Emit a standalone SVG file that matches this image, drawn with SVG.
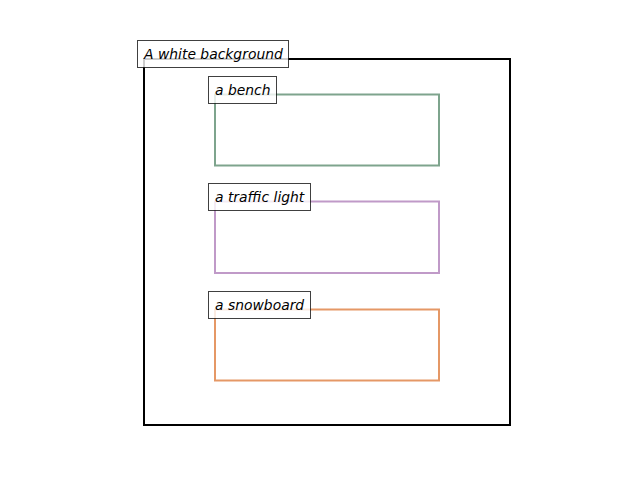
<svg xmlns="http://www.w3.org/2000/svg" width="640" height="480" viewBox="0 0 640 480">
<style>
.lbl{fill:#fff;fill-opacity:0.8;stroke:#000;stroke-opacity:0.75;stroke-width:1}
.t{font-family:"DejaVu Sans",sans-serif;font-style:oblique;font-size:13.9px;fill:#000}
.r{fill:none;stroke-width:2}
</style>
<rect width="640" height="480" fill="#fff"/>
<g id="connectors"></g>
<g id="background">
<rect class="r" x="144" y="59" width="366" height="366" stroke="#000"/>
<rect class="lbl" x="137.5" y="40.5" width="151" height="27"/>
<text class="t" x="144" y="59">A white background</text>
</g>
<g id="bench">
<rect class="r" x="215" y="94.5" width="224" height="71" stroke="#7ea48d"/>
<rect class="lbl" x="208.5" y="76.5" width="68" height="27"/>
<text class="t" x="215" y="95">a bench</text>
</g>
<g id="traffic-light">
<rect class="r" x="215" y="201.5" width="224" height="71.5" stroke="#c09ac8"/>
<rect class="lbl" x="208.5" y="183.5" width="102" height="27"/>
<text class="t" x="215" y="202">a traffic light</text>
</g>
<g id="snowboard">
<rect class="r" x="215" y="309.5" width="224" height="71" stroke="#e59866"/>
<rect class="lbl" x="208.5" y="291.5" width="102" height="27"/>
<text class="t" x="215" y="310">a snowboard</text>
</g>
</svg>
